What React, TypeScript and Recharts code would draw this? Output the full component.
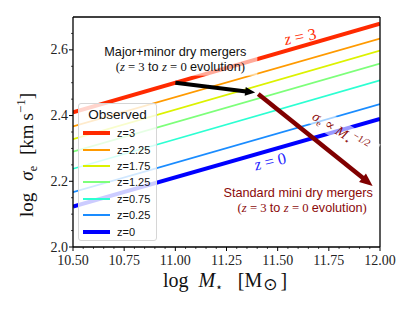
import {
  Label,
  Legend,
  Line,
  LineChart,
  ReferenceDot,
  ReferenceLine,
  XAxis,
  YAxis,
} from "recharts";

// log M* at the two ends of each observed relation
const MASS = [10.5, 12.0];

// log sigma_e at those masses, one array per redshift
const SIGMA_Z3 = [2.41, 2.68];
const SIGMA_Z225 = [2.367, 2.634];
const SIGMA_Z175 = [2.328, 2.598];
const SIGMA_Z125 = [2.29, 2.558];
const SIGMA_Z075 = [2.238, 2.507];
const SIGMA_Z025 = [2.167, 2.435];
const SIGMA_Z0 = [2.123, 2.39];

const SERIES_KEYS = ["z3", "z225", "z175", "z125", "z075", "z025", "z0"];
const SERIES_NAMES = ["z=3", "z=2.25", "z=1.75", "z=1.25", "z=0.75", "z=0.25", "z=0"];
const SERIES_VALUES = [SIGMA_Z3, SIGMA_Z225, SIGMA_Z175, SIGMA_Z125, SIGMA_Z075, SIGMA_Z025, SIGMA_Z0];

const SERIES_COLORS = ["#ff2a00", "#ff9a00", "#dcf200", "#7dff7a", "#2cffd2", "#1a8cff", "#0000ff"];
const SERIES_WIDTHS = [4, 1.7, 1.7, 1.7, 1.7, 1.7, 4];

// evolution tracks (start, end) in (log M*, log sigma_e)
const MAJOR_MINOR_TRACK = [
  { mass: 11.0, sigma: 2.5 },
  { mass: 11.39, sigma: 2.47 },
];
const MINI_TRACK = [
  { mass: 11.405, sigma: 2.466 },
  { mass: 11.964, sigma: 2.186 },
];

const X_MAJOR = [10.5, 10.75, 11.0, 11.25, 11.5, 11.75, 12.0];
const X_MINOR = [
  10.55, 10.6, 10.65, 10.7, 10.8, 10.85, 10.9, 10.95, 11.05, 11.1, 11.15, 11.2,
  11.3, 11.35, 11.4, 11.45, 11.55, 11.6, 11.65, 11.7, 11.8, 11.85, 11.9, 11.95,
];
const Y_MAJOR = [2.0, 2.2, 2.4, 2.6];
const Y_MINOR = [2.05, 2.1, 2.15, 2.25, 2.3, 2.35, 2.45, 2.5, 2.55, 2.65];

const data = MASS.map((mass, i) => {
  const row: Record<string, number> = { mass };
  SERIES_KEYS.forEach((key, s) => {
    row[key] = SERIES_VALUES[s][i];
  });
  return row;
});

const SERIF = "'Liberation Serif', 'DejaVu Serif', serif";
const SANS = "'Liberation Sans', 'DejaVu Sans', sans-serif";
const MAROON = "#800000";
const TEXT_RED = "#8b0a0a";

function XTick({ x, y, payload }: any) {
  const major = X_MAJOR.includes(payload.value);
  return (
    <g>
      <line x1={x} x2={x} y1={y} y2={y + (major ? 4 : 2)} stroke="#000" strokeWidth={major ? 1 : 0.7} />
      {major ? (
        <text x={x} y={y + 18} textAnchor="middle" fontFamily={SERIF} fontSize={14} fill="#222">
          {payload.value.toFixed(2)}
        </text>
      ) : null}
    </g>
  );
}

function YTick({ x, y, payload }: any) {
  const major = Y_MAJOR.includes(payload.value);
  return (
    <g>
      <line x1={x} x2={x - (major ? 4 : 2)} y1={y} y2={y} stroke="#000" strokeWidth={major ? 1 : 0.7} />
      {major ? (
        <text x={x - 5} y={y + 4.5} textAnchor="end" fontFamily={SERIF} fontSize={14} fill="#222">
          {payload.value.toFixed(1)}
        </text>
      ) : null}
    </g>
  );
}

function XTitle({ viewBox }: any) {
  const x = viewBox.x + 90;
  const y = viewBox.y + 40;
  return (
    <text x={x} y={y} fontFamily={SERIF} fontSize={20} fill="#111">
      <tspan>log</tspan>
      <tspan dx={10} fontStyle="italic">M</tspan>
      <tspan dy={4} fontSize={12} fontFamily="'DejaVu Sans'">⋆</tspan>
      <tspan dx={15} dy={-4}>[M</tspan>
      <tspan dx={1} dy={3} fontSize={17} fontFamily="'DejaVu Sans'">⊙</tspan>
      <tspan dx={3} dy={-3}>]</tspan>
    </text>
  );
}

function YTitle({ viewBox }: any) {
  const x = viewBox.x + 33;
  const y = viewBox.y + viewBox.height - 30;
  return (
    <text x={x} y={y} transform={`rotate(-90 ${x} ${y})`} fontFamily={SERIF} fontSize={19} fill="#111">
      <tspan>log</tspan>
      <tspan dx={12} fontStyle="italic">σ</tspan>
      <tspan dy={4} fontSize={12}>e</tspan>
      <tspan dx={11} dy={-4}>[km</tspan>
      <tspan dx={4}>s</tspan>
      <tspan dy={-8} fontSize={13}>−1</tspan>
      <tspan dy={8}>]</tspan>
    </text>
  );
}

function arrowShape(color: string, width: number, headLen: number, headWidth: number) {
  return (props: any) => {
    const { x1, y1, x2, y2 } = props;
    const len = Math.hypot(x2 - x1, y2 - y1);
    const ux = (x2 - x1) / len;
    const uy = (y2 - y1) / len;
    const bx = x2 - ux * headLen;
    const by = y2 - uy * headLen;
    const hx = -uy * (headWidth / 2);
    const hy = ux * (headWidth / 2);
    return (
      <g>
        <line x1={x1} y1={y1} x2={bx + ux} y2={by + uy} stroke={color} strokeWidth={width} />
        <polygon points={`${x2},${y2} ${bx + hx},${by + hy} ${bx - hx},${by - hy}`} fill={color} />
      </g>
    );
  };
}

function EvolutionLine({ x, y, color }: any) {
  return (
    <text x={x} y={y} textAnchor="middle" fontFamily={SANS} fontSize={12.7} fill={color}>
      <tspan fontFamily={SERIF}>(</tspan>
      <tspan fontFamily={SERIF} fontStyle="italic">z</tspan>
      <tspan fontFamily={SERIF}> = 3 </tspan>
      <tspan>to </tspan>
      <tspan fontFamily={SERIF} fontStyle="italic">z</tspan>
      <tspan fontFamily={SERIF}> = 0 </tspan>
      <tspan>evolution</tspan>
      <tspan fontFamily={SERIF}>)</tspan>
    </text>
  );
}

function MajorMinorNote({ cx, cy }: any) {
  return (
    <g>
      <rect x={cx - 76} y={cy - 18} width={158} height={34} fill="#fff" fillOpacity={0.6} />
      <text x={cx} y={cy - 3.5} textAnchor="middle" fontFamily={SANS} fontSize={12.7} fill="#111">
        Major+minor dry mergers
      </text>
      <EvolutionLine x={cx + 5} y={cy + 11.5} color="#111" />
    </g>
  );
}

function MiniNote({ cx, cy }: any) {
  return (
    <g>
      <text x={cx - 2} y={cy - 3} textAnchor="middle" fontFamily={SANS} fontSize={12.7} fill={TEXT_RED}>
        Standard mini dry mergers
      </text>
      <EvolutionLine x={cx + 2} y={cy + 11.5} color={TEXT_RED} />
    </g>
  );
}

function RedshiftTag(label: string, color: string, angle: number) {
  return ({ cx, cy }: any) => (
    <text
      x={cx}
      y={cy}
      transform={`rotate(${angle} ${cx} ${cy})`}
      textAnchor="middle"
      dominantBaseline="central"
      fontFamily={SERIF}
      fontSize={16.5}
      fill={color}
    >
      <tspan fontStyle="italic">z</tspan>
      <tspan> = {label}</tspan>
    </text>
  );
}

function ScalingTag({ cx, cy }: any) {
  return (
    <g transform={`rotate(32 ${cx} ${cy})`}>
      <rect x={cx - 39} y={cy - 11} width={80} height={20} fill="#fff" fillOpacity={0.6} />
      <text x={cx} y={cy + 4} textAnchor="middle" fontFamily={SERIF} fontSize={14} fill={TEXT_RED}>
        <tspan fontStyle="italic">σ</tspan>
        <tspan dy={3} fontSize={9}>e</tspan>
        <tspan dy={-3}> ∝ </tspan>
        <tspan fontStyle="italic">M</tspan>
        <tspan dy={3} fontSize={9} fontFamily="'DejaVu Sans'">⋆</tspan>
        <tspan dy={-9} fontSize={10}>−1/2</tspan>
      </text>
    </g>
  );
}

function ObservedLegend({ payload }: any) {
  const entries = [...(payload ?? [])].sort(
    (a: any, b: any) => SERIES_NAMES.indexOf(a.value) - SERIES_NAMES.indexOf(b.value),
  );
  return (
    <div
      style={{
        boxSizing: "border-box",
        width: 79,
        height: 138,
        background: "rgba(255,255,255,0.8)",
        border: "1px solid #d6d6d6",
        borderRadius: 3,
        fontFamily: SANS,
        fontWeight: 400,
        color: "#111",
      }}
    >
      <div style={{ height: 21, lineHeight: "22px", fontSize: 13.5, textAlign: "center" }}>Observed</div>
      {entries.map((entry: any) => {
        const idx = SERIES_NAMES.indexOf(entry.value);
        return (
          <div key={entry.value} style={{ display: "flex", alignItems: "center", height: 16.4 }}>
            <span
              style={{
                display: "inline-block",
                marginLeft: 4,
                width: 27,
                height: idx === 0 || idx === 6 ? 4 : 2,
                background: SERIES_COLORS[idx],
              }}
            />
            <span style={{ marginLeft: 7, fontSize: 11 }}>{entry.value}</span>
          </div>
        );
      })}
    </div>
  );
}

export default function App() {
  return (
    <div style={{ position: "absolute", left: 0, top: 0, width: 415, height: 311, background: "#fff" }}>
      <LineChart width={415} height={311} data={data} margin={{ top: 17, right: 35, bottom: 0, left: 0 }}>
        <XAxis
          dataKey="mass"
          type="number"
          domain={[10.5, 12]}
          allowDataOverflow
          ticks={[...X_MAJOR, ...X_MINOR]}
          interval={0}
          tick={<XTick />}
          tickLine={false}
          tickSize={0}
          tickMargin={0}
          height={64}
          axisLine={{ stroke: "#000", strokeWidth: 1.3 }}
        >
          <Label content={<XTitle />} />
        </XAxis>
        <YAxis
          type="number"
          domain={[2.0, 2.7]}
          allowDataOverflow
          ticks={[...Y_MAJOR, ...Y_MINOR]}
          interval={0}
          tick={<YTick />}
          tickLine={false}
          tickSize={0}
          tickMargin={0}
          width={73}
          axisLine={{ stroke: "#000", strokeWidth: 1.3 }}
        >
          <Label content={<YTitle />} />
        </YAxis>
        {SERIES_KEYS.map((key, s) => (
          <Line
            key={key}
            dataKey={key}
            name={SERIES_NAMES[s]}
            type="linear"
            stroke={SERIES_COLORS[s]}
            strokeWidth={SERIES_WIDTHS[s]}
            dot={false}
            activeDot={false}
            isAnimationActive={false}
          />
        ))}
        <ReferenceLine y={2.7} stroke="#000" strokeWidth={1.3} />
        <ReferenceLine x={12} stroke="#000" strokeWidth={1.3} />
        <ReferenceDot x={11.0} y={2.57} r={0} shape={MajorMinorNote} zIndex={1500} />
        <ReferenceDot x={11.61} y={2.642} r={0} shape={RedshiftTag("3", "#ff2a00", -11)} zIndex={1500} />
        <ReferenceDot x={11.463} y={2.262} r={0} shape={RedshiftTag("0", "#2222ff", -13)} zIndex={1500} />
        <ReferenceDot x={11.805} y={2.35} r={0} shape={ScalingTag} zIndex={1500} />
        <ReferenceDot x={11.61} y={2.143} r={0} shape={MiniNote} zIndex={1500} />
        <ReferenceLine
          segment={[
            { x: MAJOR_MINOR_TRACK[0].mass, y: MAJOR_MINOR_TRACK[0].sigma },
            { x: MAJOR_MINOR_TRACK[1].mass, y: MAJOR_MINOR_TRACK[1].sigma },
          ]}
          shape={arrowShape("#000", 4, 10, 9)}
          zIndex={1600}
        />
        <ReferenceLine
          segment={[
            { x: MINI_TRACK[0].mass, y: MINI_TRACK[0].sigma },
            { x: MINI_TRACK[1].mass, y: MINI_TRACK[1].sigma },
          ]}
          shape={arrowShape(MAROON, 4.5, 13, 11)}
          zIndex={1600}
        />
        <Legend
          layout="vertical"
          align="center"
          verticalAlign="middle"
          content={<ObservedLegend />}
          wrapperStyle={{ left: 78, top: 103, width: 79, height: 138 }}
        />
      </LineChart>
    </div>
  );
}
